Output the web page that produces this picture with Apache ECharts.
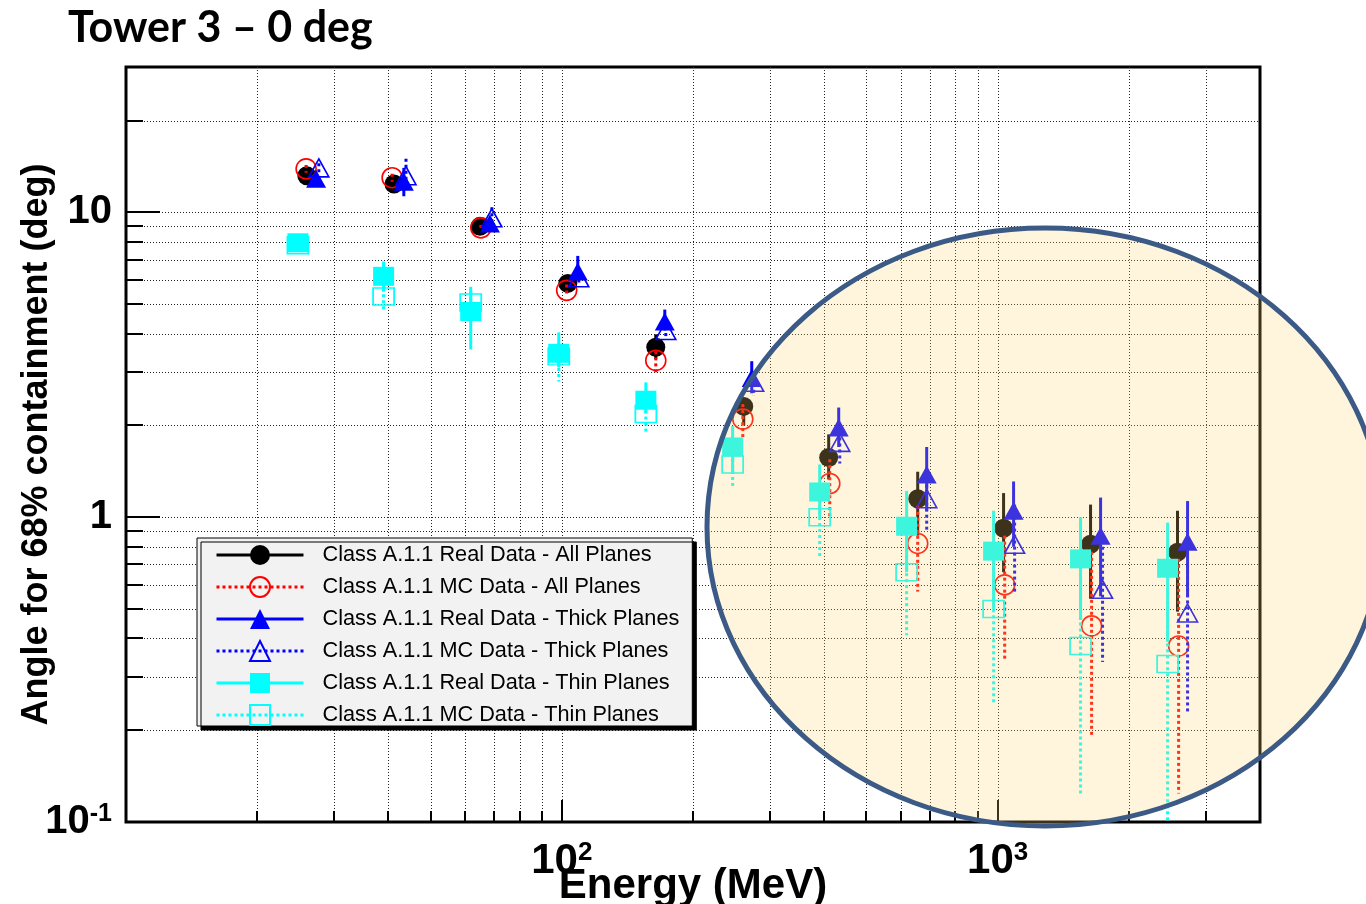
<!DOCTYPE html>
<html>
<head>
<meta charset="utf-8">
<title>Tower 3 – 0 deg</title>
<script src="https://cdn.jsdelivr.net/npm/echarts@6/dist/echarts.min.js"></script>
<style>
  html, body { margin: 0; padding: 0; background: #fff; }
  #chart { width: 1366px; height: 904px; }
</style>
</head>
<body>
<div id="chart"></div>
<script>
// ---- data: angle for 68% containment (deg) vs energy (MeV) ----
const seriesNames = [
  'Class A.1.1 Real Data - All Planes',
  'Class A.1.1 MC Data - All Planes',
  'Class A.1.1 Real Data - Thick Planes',
  'Class A.1.1 MC Data - Thick Planes',
  'Class A.1.1 Real Data - Thin Planes',
  'Class A.1.1 MC Data - Thin Planes'
];

// Real data, all planes
const eRealAll  = [26.0, 41.2, 64.9, 103.2, 164.3, 261.5, 409.6, 655.6, 1032, 1634, 2587];
const aRealAll  = [13.2, 12.4, 9.0, 5.85, 3.61, 2.31, 1.57, 1.15, 0.92, 0.815, 0.768];
const loRealAll = [12.8, 12.0, 8.8, 5.6, 3.3, 2.0, 1.33, 0.87, 0.66, 0.54, 0.49];
const hiRealAll = [13.6, 12.8, 9.2, 6.1, 3.98, 2.45, 1.87, 1.41, 1.2, 1.1, 1.05];

// MC data, all planes
const eMcAll  = [25.9, 40.8, 65.2, 102.6, 164.3, 260.2, 412.0, 655.6, 1038, 1643, 2602];
const aMcAll  = [13.9, 13.0, 8.9, 5.55, 3.27, 2.1, 1.29, 0.82, 0.60, 0.44, 0.378];
const loMcAll = [13.5, 12.6, 8.7, 5.3, 2.99, 1.83, 0.985, 0.57, 0.34, 0.19, 0.124];
const hiMcAll = [14.3, 13.4, 9.1, 5.8, 3.5, 2.35, 1.55, 1.09, 0.87, 0.77, 0.73];

// Real data, thick planes
const eRealThick  = [27.3, 43.4, 68.4, 108.8, 172.3, 272.8, 431.9, 687.5, 1088, 1723, 2728];
const aRealThick  = [12.9, 12.6, 9.2, 6.4, 4.39, 2.86, 1.97, 1.38, 1.05, 0.87, 0.83];
const loRealThick = [12.5, 11.3, 8.9, 6.0, 4.1, 2.55, 1.7, 1.05, 0.8, 0.55, 0.55];
const hiRealThick = [13.4, 14.0, 9.6, 7.2, 4.8, 3.25, 2.29, 1.7, 1.31, 1.16, 1.13];

// MC data, thick planes
const eMcThick  = [27.7, 43.9, 69.1, 109.4, 173.2, 275.6, 434.3, 687.5, 1094, 1741, 2728];
const aMcThick  = [14.0, 13.2, 9.6, 6.1, 4.1, 2.77, 1.76, 1.15, 0.815, 0.58, 0.485];
const loMcThick = [13.5, 12.5, 9.3, 5.8, 3.9, 2.5, 1.5, 0.89, 0.57, 0.335, 0.226];
const hiMcThick = [14.5, 15.0, 10.4, 6.6, 4.4, 3.0, 2.0, 1.4, 1.1, 0.8, 0.7];

// Real data, thin planes
const eRealThin  = [24.8, 39.0, 61.8, 98.4, 155.9, 246.6, 390.6, 618.3, 979, 1550, 2455];
const aRealThin  = [7.95, 6.17, 4.73, 3.45, 2.42, 1.70, 1.21, 0.934, 0.774, 0.73, 0.68];
const loRealThin = [7.8, 5.5, 3.55, 3.1, 2.2, 1.4, 1.0, 0.66, 0.5, 0.46, 0.39];
const hiRealThin = [8.1, 6.9, 5.7, 4.04, 2.77, 1.99, 1.49, 1.22, 1.05, 1.0, 0.96];

// MC data, thin planes
const eMcThin  = [24.8, 39.0, 61.8, 98.4, 155.9, 246.6, 390.6, 618.3, 979, 1550, 2455];
const aMcThin  = [7.8, 5.3, 5.06, 3.37, 2.18, 1.49, 1.0, 0.66, 0.50, 0.378, 0.33];
const loMcThin = [7.6, 4.7, 4.6, 2.79, 1.9, 1.24, 0.74, 0.41, 0.244, 0.124, 0.09];
const hiMcThin = [8.0, 5.9, 5.5, 3.7, 2.45, 1.7, 1.2, 0.9, 0.75, 0.62, 0.58];

// ---- axis ticks / grid values ----
const xRange = [10, 4000];
const yRange = [0.1, 30];
const xMinorTicks = [20, 30, 40, 50, 60, 70, 80, 90, 200, 300, 400, 500, 600, 700, 800, 900, 2000, 3000];
const xMajorTicks = [100, 1000];
const yMinorTicks = [0.2, 0.3, 0.4, 0.5, 0.6, 0.7, 0.8, 0.9, 2, 3, 4, 5, 6, 7, 8, 9, 20];
const yMajorTicks = [1, 10];

// ---- styles ----
const AXIS_FONT = 'Liberation Sans, Arial, Helvetica, sans-serif';
const sets = [
  { e: eRealAll,   a: aRealAll,   lo: loRealAll,   hi: hiRealAll,   color: '#000000', mc: false, symbol: 'circle',   size: 19 },
  { e: eMcAll,     a: aMcAll,     lo: loMcAll,     hi: hiMcAll,     color: '#ff0000', mc: true,  symbol: 'circle',   size: 20 },
  { e: eRealThick, a: aRealThick, lo: loRealThick, hi: hiRealThick, color: '#0000ff', mc: false, symbol: 'triangle', size: [20, 18] },
  { e: eMcThick,   a: aMcThick,   lo: loMcThick,   hi: hiMcThick,   color: '#0000ff', mc: true,  symbol: 'triangle', size: [20, 18] },
  { e: eRealThin,  a: aRealThin,  lo: loRealThin,  hi: hiRealThin,  color: '#00ffff', mc: false, symbol: 'rect',     size: [21, 19] },
  { e: eMcThin,    a: aMcThin,    lo: loMcThin,    hi: hiMcThin,    color: '#00ffff', mc: true,  symbol: 'rect',     size: [21, 17] }
];
const DOTS = [3, 3];

// vertical error bar, clipped to the plot frame
function errorBar(color, dashed) {
  return function (params, api) {
    const cs = params.coordSys;
    const x = api.value(0);
    const pLo = api.coord([x, api.value(1)]);
    const pHi = api.coord([x, api.value(2)]);
    const y1 = Math.max(pHi[1], cs.y);
    const y2 = Math.min(pLo[1], cs.y + cs.height);
    return {
      type: 'line',
      shape: { x1: pHi[0], y1: y1, x2: pHi[0], y2: y2 },
      style: { stroke: color, lineWidth: 3, lineDash: dashed ? DOTS : null }
    };
  };
}

// vertical grid line or bottom tick at an energy value
function xLine(len) {
  return function (params, api) {
    const cs = params.coordSys;
    const px = api.coord([api.value(0), 1])[0];
    const bottom = cs.y + cs.height;
    if (!len) {
      const x = Math.round(px) + 0.5;
      return { type: 'line', shape: { x1: x, y1: cs.y, x2: x, y2: bottom },
               style: { stroke: '#222', lineWidth: 1, lineDash: [1, 2] } };
    }
    const x = Math.round(px);
    return { type: 'line', shape: { x1: x, y1: bottom - len, x2: x, y2: bottom },
             style: { stroke: '#000', lineWidth: 2 } };
  };
}

// horizontal grid line or left tick at an angle value
function yLine(len) {
  return function (params, api) {
    const cs = params.coordSys;
    const py = api.coord([100, api.value(1)])[1];
    if (!len) {
      const y = Math.round(py) + 0.5;
      return { type: 'line', shape: { x1: cs.x, y1: y, x2: cs.x + cs.width, y2: y },
               style: { stroke: '#222', lineWidth: 1, lineDash: [1, 2] } };
    }
    const y = Math.round(py);
    return { type: 'line', shape: { x1: cs.x, y1: y, x2: cs.x + len, y2: y },
             style: { stroke: '#000', lineWidth: 2 } };
  };
}

function helperSeries(data, render, z) {
  return { type: 'custom', silent: true, z: z, renderItem: render,
           encode: { x: 0, y: 1 }, data: data };
}

const xGridData = xMinorTicks.concat(xMajorTicks).map(v => [v, 1]);
const yGridData = yMinorTicks.concat(yMajorTicks).map(v => [100, v]);

const series = [
  helperSeries(xGridData, xLine(0), 1),
  helperSeries(yGridData, yLine(0), 1),
  helperSeries(xMinorTicks.map(v => [v, 1]), xLine(11), 60),
  helperSeries(xMajorTicks.map(v => [v, 1]), xLine(22), 60),
  helperSeries(yMinorTicks.map(v => [100, v]), yLine(17), 60),
  helperSeries(yMajorTicks.map(v => [100, v]), yLine(34), 60)
];

sets.forEach(function (s, i) {
  series.push({
    type: 'custom',
    name: seriesNames[i] + ' (errors)',
    silent: true,
    z: 10 + 2 * i,
    renderItem: errorBar(s.color, s.mc),
    encode: { x: 0, y: [1, 2] },
    data: s.e.map((e, k) => [e, s.lo[k], s.hi[k]])
  });
  series.push({
    type: 'line',
    name: seriesNames[i],
    z: 11 + 2 * i,
    symbol: s.symbol,
    symbolSize: s.size,
    showSymbol: true,
    lineStyle: { opacity: 0, width: 0.01, color: s.color },
    itemStyle: s.mc
      ? { color: 'rgba(0,0,0,0)', borderColor: s.color, borderWidth: 1.6 }
      : { color: s.color, borderWidth: 0 },
    emphasis: { disabled: true },
    data: s.e.map((e, k) => [e, s.a[k]])
  });
});

function powLabel(v, hideExp) {
  const l = Math.log10(v);
  const e = Math.round(l);
  if (Math.abs(l - e) > 1e-6 || e === hideExp) return '';
  if (e === 0) return '{b|1}';
  if (e === 1) return '{b|10}';
  return '{b|10}{s|' + e + '}';
}

const chart = echarts.init(document.getElementById('chart'), null, { renderer: 'canvas' });
chart.setOption({
  animation: false,
  backgroundColor: '#ffffff',
  title: {
    text: 'Tower 3 – 0 deg',
    left: 63, top: 2,
    textStyle: { fontFamily: 'Lato, sans-serif', fontWeight: 'bold', fontSize: 43, color: '#000' }
  },
  grid: {
    left: 126, top: 67, width: 1134, height: 755,
    containLabel: false, outerBoundsMode: 'none',
    show: true, borderColor: '#000', borderWidth: 3, backgroundColor: 'rgba(0,0,0,0)'
  },
  xAxis: {
    type: 'log', logBase: 10, min: xRange[0], max: xRange[1],
    axisLine: { show: false }, axisTick: { show: false }, splitLine: { show: false },
    axisLabel: {
      margin: 18,
      formatter: v => powLabel(v, 1),
      rich: {
        b: { fontFamily: AXIS_FONT, fontWeight: 'bold', fontSize: 42, lineHeight: 42, color: '#000' },
        s: { fontFamily: AXIS_FONT, fontWeight: 'bold', fontSize: 26, lineHeight: 22, verticalAlign: 'top', color: '#000' }
      }
    },
    name: 'Energy (MeV)', nameLocation: 'middle', nameGap: 43, nameMoveOverlap: false,
    nameTextStyle: { fontFamily: AXIS_FONT, fontWeight: 'bold', fontSize: 42, color: '#000' }
  },
  yAxis: {
    type: 'log', logBase: 10, min: yRange[0], max: yRange[1],
    axisLine: { show: false }, axisTick: { show: false }, splitLine: { show: false },
    axisLabel: {
      margin: 14,
      formatter: v => powLabel(v, null),
      rich: {
        b: { fontFamily: AXIS_FONT, fontWeight: 'bold', fontSize: 40, lineHeight: 40, color: '#000' },
        s: { fontFamily: AXIS_FONT, fontWeight: 'bold', fontSize: 25, lineHeight: 20, verticalAlign: 'top', color: '#000' }
      }
    },
    name: 'Angle for 68% containment (deg)', nameLocation: 'middle', nameGap: 71, nameRotate: 90,
    nameMoveOverlap: false,
    nameTextStyle: { fontFamily: AXIS_FONT, fontWeight: 'bold', fontSize: 36, color: '#000' }
  },
  legend: {
    orient: 'vertical', left: 197, top: 538,
    itemWidth: 87, itemHeight: 25, itemGap: 10,
    padding: [6, 13, 0, 18],
    backgroundColor: '#f2f2f2', borderColor: '#000', borderWidth: 1,
    shadowColor: '#000', shadowBlur: 0, shadowOffsetX: 4, shadowOffsetY: 4,
    selectedMode: false,
    textStyle: { fontFamily: AXIS_FONT, fontSize: 21.7, color: '#000', padding: [0, 0, 0, 14] },
    data: seriesNames.map((n, i) => ({
      name: n,
      lineStyle: { color: sets[i].color, width: 3, type: sets[i].mc ? DOTS : 'solid', opacity: 1 }
    }))
  },
  graphic: [{
    type: 'ellipse', z: 100, silent: true,
    shape: { cx: 1045, cy: 527, rx: 338, ry: 299 },
    style: { fill: 'rgba(250,214,110,0.24)', stroke: '#3c5a86', lineWidth: 5 }
  }],
  series: series
});
</script>
</body>
</html>
